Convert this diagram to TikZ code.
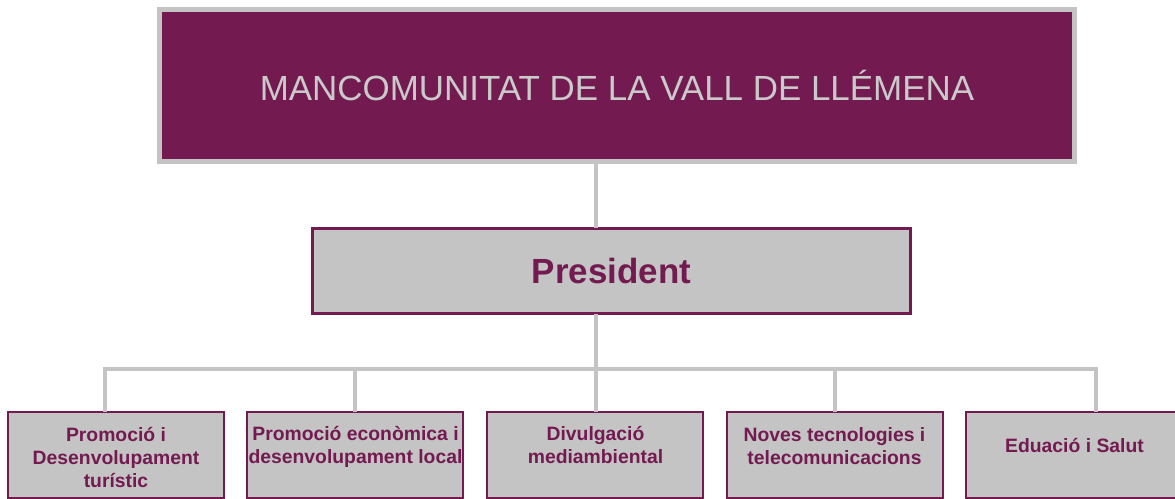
\documentclass[tikz,border=0pt]{standalone}
\usepackage{fontspec}
\setmainfont{Liberation Sans}
\definecolor{mancom}{HTML}{731A50}
\definecolor{boxgray}{HTML}{C4C4C4}
\definecolor{linkgray}{HTML}{C4C4C4}
\definecolor{titlegray}{HTML}{CACACA}
\begin{document}
\begin{tikzpicture}[x=0.75pt,y=-0.75pt,
  every node/.style={outer sep=0pt},
  headbox/.style={draw=linkgray,line width=3.75pt,fill=mancom,minimum width=686.25pt,minimum height=114pt,
    text=titlegray,font=\fontsize{26.2}{30}\selectfont},
  presbox/.style={draw=mancom,line width=2.25pt,fill=boxgray,minimum width=448.5pt,minimum height=63.75pt,
    text=mancom,font=\fontsize{26.2}{30}\selectfont\bfseries},
  unitbox/.style={draw=mancom,line width=1.5pt,fill=boxgray,minimum width=162pt,minimum height=64.5pt},
  unittext/.style={inner sep=0pt,align=center,text=mancom,font=\fontsize{14.5}{17.25}\selectfont\bfseries},
  link/.style={draw=linkgray,line width=3pt}]
\useasboundingbox (0,0) rectangle (1175,499);
% boxes
\node[headbox] (head) at (617,85.5) {MANCOMUNITAT DE LA VALL DE LLÉMENA};
\node[presbox] (pres) at (611.5,271) {President};
\node[unitbox] (u1) at (116,455) {};
\node[unitbox] (u2) at (355,455) {};
\node[unitbox] (u3) at (594.5,455) {};
\node[unitbox] (u4) at (835,455) {};
\node[unitbox] (u5) at (1074,455) {};
\node[unittext] (u1t) at (116,458) {Promoció i\\Desenvolupament\\turístic};
\node[unittext] (u2t) at (355.5,446.5) {Promoció econòmica i\\desenvolupament local};
\node[unittext] (u3t) at (595.5,445.5) {Divulgació\\mediambiental};
\node[unittext] (u4t) at (834.5,446.5) {Noves tecnologies i\\telecomunicacions};
\node[unittext,anchor=base] (u5t) at (1074.5,452) {Eduació i Salut};
% connectors
\coordinate (trunk) at (596,369);
\coordinate (busL) at (105,369);
\coordinate (busR) at (1096,369);
\draw[link] (head.south -| trunk) -- (pres.north -| trunk);
\draw[link] (pres.south -| trunk) -- (trunk);
\draw[link] (u1.north -| busL) -- (busL) -- (busR) -- (u5.north -| busR);
\draw[link] (u2.north) -- (u2.north |- trunk);
\draw[link] (u3.north -| trunk) -- (trunk);
\draw[link] (u4.north) -- (u4.north |- trunk);
\end{tikzpicture}
\end{document}
